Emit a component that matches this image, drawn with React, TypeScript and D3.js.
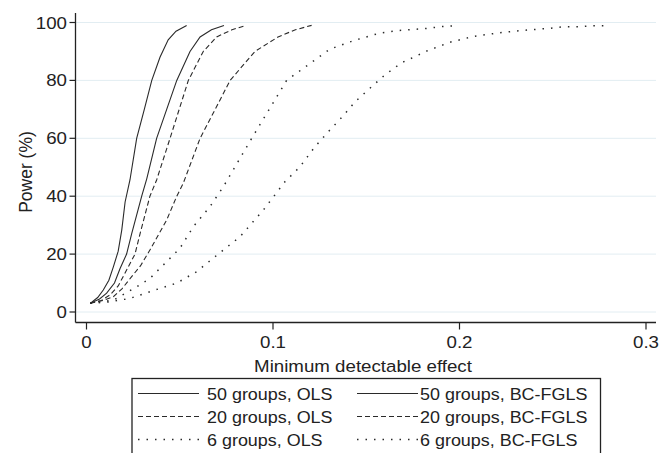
import React from 'react';
import * as d3 from 'd3';

// power curves (x = minimum detectable effect, y = power %)
const ols50X = [0.002, 0.006, 0.009, 0.012, 0.0144, 0.017, 0.0189, 0.0207, 0.0233, 0.0269, 0.031, 0.035, 0.0394, 0.0438, 0.048, 0.0537];
const ols50Y = [3, 5, 7.6, 11, 15.6, 21, 28.3, 38, 45.6, 60, 70, 80, 88, 94, 97, 99];

const bc50X = [0.002, 0.007, 0.0108, 0.015, 0.018, 0.0215, 0.0242, 0.0296, 0.0323, 0.0376, 0.043, 0.0484, 0.0555, 0.0609, 0.067, 0.0737];
const bc50Y = [3, 4.5, 6.5, 10, 15, 20, 27, 40, 46, 60, 70, 80, 90, 95, 97.5, 99];

const ols20X = [0.002, 0.008, 0.0126, 0.017, 0.0215, 0.026, 0.0287, 0.034, 0.0376, 0.0448, 0.0546, 0.0626, 0.0698, 0.078, 0.0855];
const ols20Y = [3, 4, 5.9, 9, 14.5, 20, 27, 40, 45.6, 60, 80, 90, 95, 97.5, 99];

const bc20X = [0.002, 0.009, 0.0144, 0.019, 0.0242, 0.029, 0.034, 0.043, 0.0484, 0.0519, 0.0609, 0.069, 0.077, 0.0903, 0.1027, 0.112, 0.1207];
const bc20Y = [3, 4, 5.3, 8, 12.2, 16, 21.4, 31.8, 40, 44.5, 60, 70, 80, 90, 95, 97.5, 99];

const ols6X = [0.002, 0.008, 0.0144, 0.0269, 0.034, 0.043, 0.0501, 0.0573, 0.0662, 0.0734, 0.0886, 0.1073, 0.1305, 0.143, 0.157, 0.167, 0.175, 0.183, 0.1905, 0.1985];
const ols6Y = [3, 3.5, 4.1, 8.7, 11.6, 17.4, 22, 29.5, 36.4, 43.3, 60, 80, 90.8, 93.7, 96.3, 97.2, 97.6, 98, 98.6, 98.9];

const bc6X = [0.002, 0.012, 0.0233, 0.0358, 0.0484, 0.059, 0.0716, 0.0823, 0.0948, 0.1064, 0.1145, 0.1225, 0.1297, 0.1375, 0.144, 0.152, 0.16, 0.169, 0.183, 0.195, 0.207, 0.215, 0.225, 0.233, 0.2405, 0.2485, 0.2555, 0.2635, 0.2715, 0.2795];
const bc6Y = [3, 3.5, 4.7, 7.4, 10, 13.9, 20.5, 26, 35.2, 45, 50.2, 57.1, 62.3, 67.7, 72.6, 77.3, 81.9, 86.1, 90.3, 93.2, 95.1, 95.9, 96.7, 97.2, 97.6, 98, 98.5, 98.5, 98.9, 98.9];

const xTicks = [0, 0.1, 0.2, 0.3];
const yTicks = [0, 20, 40, 60, 80, 100];

const legendLabels = [
  '50 groups, OLS', '50 groups, BC-FGLS',
  '20 groups, OLS', '20 groups, BC-FGLS',
  '6 groups, OLS', '6 groups, BC-FGLS',
];

const W = 662;
const H = 453;
const FONT = '"Liberation Sans", Arial, Helvetica, sans-serif';
const INK = '#222';
const SX = 1.1; // glyphs in the figure are a bit wide

const solid = '';
const dashed = '5 3';
const dotted = '1.5 7';

const series = [
  { xs: ols50X, ys: ols50Y, dash: solid },
  { xs: bc50X, ys: bc50Y, dash: solid },
  { xs: ols20X, ys: ols20Y, dash: dashed },
  { xs: bc20X, ys: bc20Y, dash: dashed },
  { xs: ols6X, ys: ols6Y, dash: dotted },
  { xs: bc6X, ys: bc6Y, dash: dotted },
];

const Txt = ({ x, y, size, anchor = 'start', children }: any) => (
  <text
    transform={`translate(${x},${y}) scale(${SX},1)`}
    fontSize={size}
    textAnchor={anchor}
    fill={INK}
  >
    {children}
  </text>
);

const App = () => {
  const x = d3.scaleLinear().domain([0, 0.3]).range([86.5, 646]);
  const y = d3.scaleLinear().domain([0, 100]).range([312, 22.5]);

  const axisLeft = 75.5;
  const axisBottom = 322.5;
  const plotRight = 656;

  const line = d3.line<[number, number]>().x(d => x(d[0])).y(d => y(d[1]));

  // legend
  const lgLeft = 132, lgTop = 378.5, lgRight = 600.5, rowH = 23;
  const cols = [
    { x0: 138, x1: 199, tx: 207 },
    { x0: 357, x1: 418, tx: 420 },
  ];

  return (
    <svg
      width={W}
      height={H}
      style={{ position: 'absolute', left: 0, top: 0, background: '#fff' }}
      fontFamily={FONT}
    >
      {/* gridlines */}
      {yTicks.map(t => (
        <line key={'g' + t} x1={axisLeft} x2={plotRight} y1={y(t)} y2={y(t)} stroke="#e2edf2" strokeWidth={1} />
      ))}

      {/* curves */}
      {series.map((s, i) => (
        <path
          key={i}
          d={line(s.xs.map((v, j) => [v, s.ys[j]] as [number, number])) || ''}
          fill="none"
          stroke="#2a2a2a"
          strokeWidth={s.dash === dotted ? 1.5 : 1.1}
          strokeDasharray={s.dash || undefined}
        />
      ))}

      {/* axes */}
      <line x1={axisLeft} x2={axisLeft} y1={13} y2={axisBottom} stroke={INK} strokeWidth={1.3} />
      <line x1={axisLeft} x2={plotRight} y1={axisBottom} y2={axisBottom} stroke={INK} strokeWidth={1.3} />

      {yTicks.map(t => (
        <g key={'y' + t}>
          <line x1={axisLeft - 6} x2={axisLeft} y1={y(t)} y2={y(t)} stroke={INK} strokeWidth={1.2} />
          <Txt x={67} y={y(t) + 6} size={17} anchor="end">{t}</Txt>
        </g>
      ))}
      {xTicks.map(t => (
        <g key={'x' + t}>
          <line x1={x(t)} x2={x(t)} y1={axisBottom} y2={axisBottom + 7} stroke={INK} strokeWidth={1.2} />
          <Txt x={x(t)} y={348} size={17} anchor="middle">{t === 0 ? '0' : d3.format('.1f')(t)}</Txt>
        </g>
      ))}

      <Txt x={363} y={372} size={17} anchor="middle">Minimum detectable effect</Txt>
      <text
        transform={`translate(32,172) rotate(-90)`}
        fontSize={17.5}
        textAnchor="middle"
        fill={INK}
      >
        Power (%)
      </text>

      {/* legend */}
      <rect x={lgLeft} y={lgTop} width={lgRight - lgLeft} height={H + 10 - lgTop} fill="#fff" stroke={INK} strokeWidth={1.3} />
      {legendLabels.map((lab, i) => {
        const row = Math.floor(i / 2);
        const c = cols[i % 2];
        const cy = lgTop + 15 + row * rowH;
        const dash = series[i].dash;
        return (
          <g key={lab}>
            <line
              x1={c.x0}
              x2={c.x1}
              y1={cy}
              y2={cy}
              stroke="#2a2a2a"
              strokeWidth={dash === dotted ? 1.5 : 1.1}
              strokeDasharray={dash || undefined}
            />
            <Txt x={c.tx} y={cy + 6} size={16.3}>{lab}</Txt>
          </g>
        );
      })}
    </svg>
  );
};

export default App;
